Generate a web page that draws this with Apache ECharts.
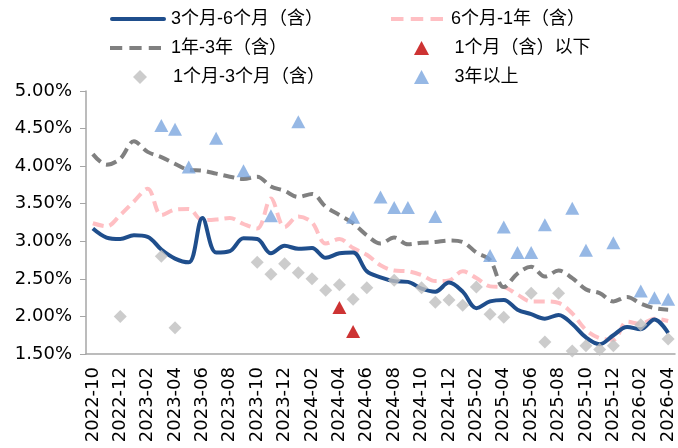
<!DOCTYPE html>
<html>
<head>
<meta charset="utf-8">
<script src="https://cdn.jsdelivr.net/npm/echarts@6/dist/echarts.min.js"></script>
<style>html,body{margin:0;padding:0;background:#fff;}#c{width:678px;height:448px;}</style>
</head>
<body>
<div id="c"></div>
<script>
const categories = ['2022-10','2022-11','2022-12','2023-01','2023-02','2023-03','2023-04','2023-05','2023-06','2023-07','2023-08','2023-09','2023-10','2023-11','2023-12','2024-01','2024-02','2024-03','2024-04','2024-05','2024-06','2024-07','2024-08','2024-09','2024-10','2024-11','2024-12','2025-01','2025-02','2025-03','2025-04','2025-05','2025-06','2025-07','2025-08','2025-09','2025-10','2025-11','2025-12','2026-01','2026-02','2026-03','2026-04'];
const r3m6m = [3.17,3.05,3.03,3.08,3.06,2.89,2.77,2.72,3.31,2.85,2.87,3.04,3.03,2.84,2.94,2.90,2.91,2.78,2.84,2.85,2.60,2.52,2.47,2.46,2.37,2.33,2.45,2.33,2.11,2.20,2.22,2.09,2.03,1.97,2.02,1.90,1.72,1.63,1.75,1.86,1.83,1.96,1.78];
const r6m1y = [3.24,3.20,3.35,3.53,3.70,3.35,3.42,3.43,3.28,3.29,3.31,3.23,3.17,3.57,3.19,3.33,3.25,2.97,3.03,2.91,2.82,2.68,2.61,2.60,2.55,2.47,2.48,2.60,2.51,2.40,2.39,2.29,2.20,2.20,2.18,2.04,1.82,1.71,1.69,1.93,1.90,1.97,1.94];
const r1y3y = [4.16,4.02,4.10,4.33,4.19,4.12,4.03,3.95,3.94,3.90,3.86,3.83,3.86,3.73,3.67,3.59,3.63,3.46,3.35,3.24,3.08,2.97,3.05,2.96,2.98,2.99,3.01,2.99,2.85,2.75,2.39,2.57,2.66,2.53,2.61,2.51,2.36,2.31,2.20,2.26,2.17,2.11,2.09];
const rUnder1m = [null,null,null,null,null,null,null,null,null,null,null,null,null,null,null,null,null,null,2.12,1.80,null,null,null,null,null,null,null,null,null,null,null,null,null,null,null,null,null,null,null,null,null,null,null];
const r1m3m = [null,null,2.00,null,null,2.80,1.85,null,null,null,null,null,2.72,2.56,2.70,2.58,2.50,2.35,2.42,2.23,2.38,null,2.48,null,2.38,2.19,2.22,2.15,2.39,2.03,1.99,null,2.31,1.66,2.31,1.54,1.61,1.56,1.61,null,1.89,null,1.70];
const r3yPlus = [null,null,null,null,null,4.54,4.49,3.99,null,4.37,null,3.94,null,3.34,null,4.59,null,null,null,3.32,null,3.59,3.45,3.45,null,3.33,null,null,null,2.81,3.19,2.85,2.85,3.22,null,3.44,2.88,null,2.98,null,2.34,2.25,2.23];
const names = ['3个月-6个月（含）','6个月-1年（含）','1年-3年（含）','1个月（含）以下','1个月-3个月（含）','3年以上'];

const chart = echarts.init(document.getElementById('c'));
const legendFont = {fontSize: 18, color: '#000', fontFamily: '"Liberation Sans","Noto Sans CJK SC",sans-serif', lineHeight: 20};
const ICON_SOLID = 'path://M2,0H54A2,2 0 0 1 54,4H2A2,2 0 0 1 2,0Z';
const ICON_DASH = 'path://M0,0H12V4H0Z M19,0H31V4H19Z M38,0H50V4H38Z';
const ICON_DIAMOND = 'path://M6,0L12,6L6,12L0,6Z';
const ICON_TRI = 'path://M7,0L14,13L0,13Z';
function leg(name, icon, left, top, w, h, textPad){
  return {data:[{name:name, icon:icon}], left:left, top:top, itemWidth:w, itemHeight:h, itemGap:0,
    symbolKeepAspect:true,
    textStyle:Object.assign({padding:[0,0,0,textPad||0]},legendFont), selectedMode:false, padding:0};
}
const axisFont = {fontSize: 18, color: '#000', fontFamily: '"DejaVu Sans",sans-serif'};
chart.setOption({
  animation:false,
  backgroundColor:'#fff',
  legend:[
    leg(names[0],ICON_SOLID,110,9,56,14), leg(names[1],ICON_DASH,391,9,52,14,3),
    leg(names[2],ICON_DASH,110,38,51,14,5), leg(names[3],ICON_TRI,414,38,56,14),
    leg(names[4],ICON_DIAMOND,133,67,56,14), leg(names[5],ICON_TRI,414,67,56,14)
  ],
  grid:{left:86,right:3,top:91,bottom:94,containLabel:false},
  xAxis:{type:'category',data:categories,boundaryGap:true,
    axisLine:{lineStyle:{color:'#A6A6A6',width:1.5}},
    axisTick:{interval:0,length:6,lineStyle:{color:'#A6A6A6'}},
    axisLabel:Object.assign({interval:1,rotate:90,margin:13},axisFont)},
  yAxis:{type:'value',min:1.5,max:5,interval:0.5,
    axisLine:{show:true,lineStyle:{color:'#A6A6A6',width:1.5}},
    axisTick:{show:true,length:6,lineStyle:{color:'#A6A6A6'}},
    splitLine:{show:false},
    axisLabel:Object.assign({margin:14,formatter:v=>v.toFixed(2)+'%'},axisFont)},
  series:[
    {name:names[0],type:'line',data:r3m6m,smooth:0.35,symbol:'none',lineStyle:{color:'#1F4E8C',width:4},itemStyle:{color:'#1F4E8C'},z:4},
    {name:names[1],type:'line',data:r6m1y,smooth:0.35,symbol:'none',lineStyle:{color:'#FFBFC3',width:4,type:[11,6]},itemStyle:{color:'#FFBFC3'},z:3},
    {name:names[2],type:'line',data:r1y3y,smooth:0.35,symbol:'none',lineStyle:{color:'#808080',width:4,type:[11,6]},itemStyle:{color:'#808080'},z:3},
    {name:names[3],type:'scatter',data:rUnder1m,symbol:'triangle',symbolSize:[14,13],itemStyle:{color:'#C00000'},z:5},
    {name:names[4],type:'scatter',data:r1m3m,symbol:'diamond',symbolSize:13,itemStyle:{color:'#BFBFBF'},z:5},
    {name:names[5],type:'scatter',data:r3yPlus,symbol:'triangle',symbolSize:[14,13],itemStyle:{color:'#7CA6DE'},z:5}
  ]
});
</script>
</body>
</html>
